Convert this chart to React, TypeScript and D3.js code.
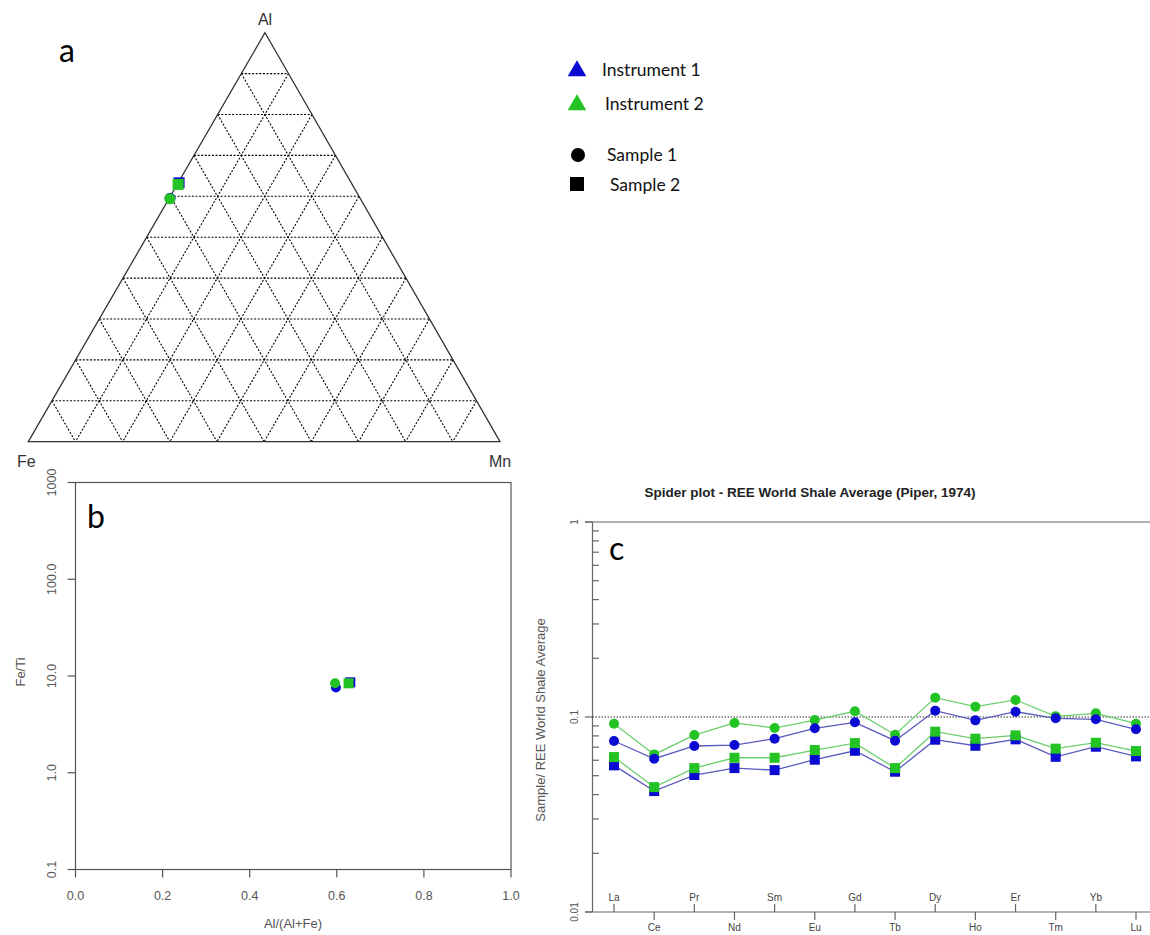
import React, { useEffect, useRef } from 'react';
import * as d3 from 'd3';

// Ternary (a): Al / Fe / Mn fractions, one entry per instrument+sample
const pointInstrument = ['Instrument 1', 'Instrument 2', 'Instrument 1', 'Instrument 2'];
const pointSample = ['Sample 1', 'Sample 1', 'Sample 2', 'Sample 2'];
const ternaryAl = [0.595, 0.594, 0.633, 0.629];
const ternaryFe = [0.403, 0.404, 0.365, 0.369];
const ternaryMn = [0.002, 0.002, 0.002, 0.002];

// Panel b
const alRatio = [0.598, 0.596, 0.631, 0.627];
const feTi = [7.6, 8.4, 8.6, 8.4];
const bYTicks = [0.1, 1, 10, 100, 1000];
const bYTickLabels = ['0.1', '1.0', '10.0', '100.0', '1000'];
const bXTicks = [0, 0.2, 0.4, 0.6, 0.8, 1.0];

// Panel c: REE normalised to World Shale Average
const elements = ['La', 'Ce', 'Pr', 'Nd', 'Sm', 'Eu', 'Gd', 'Tb', 'Dy', 'Ho', 'Er', 'Tm', 'Yb', 'Lu'];
const inst1Sample1 = [0.0753, 0.0611, 0.071, 0.0718, 0.0774, 0.0875, 0.0939, 0.0756, 0.1078, 0.0961, 0.1065, 0.0985, 0.0973, 0.0865];
const inst2Sample1 = [0.0924, 0.0643, 0.0808, 0.0932, 0.0878, 0.0965, 0.107, 0.0811, 0.1257, 0.113, 0.1223, 0.1008, 0.1044, 0.0924];
const inst1Sample2 = [0.0565, 0.0417, 0.0504, 0.0547, 0.0534, 0.0604, 0.0671, 0.0524, 0.0765, 0.0712, 0.0768, 0.0625, 0.0704, 0.0628];
const inst2Sample2 = [0.0623, 0.0437, 0.0547, 0.0618, 0.0618, 0.0677, 0.0735, 0.0547, 0.0841, 0.0774, 0.0805, 0.0688, 0.0738, 0.0669];
const cYTicks = [0.01, 0.1, 1];
const cYTickLabels = ['0.01', '0.1', '1'];

const instColor = { 'Instrument 1': '#0a0ad2', 'Instrument 2': '#22c322' };
const lineColor = { 'Instrument 1': '#5a5ac0', 'Instrument 2': '#6ccf6c' };

const App = () => {
  const svgRef = useRef(null);

  useEffect(() => {
    const svg = d3.select(svgRef.current);
    svg.selectAll('*').remove();
    const axisFont = 'Liberation Sans, Arial, sans-serif';
    const letterFont = 'Lato, Open Sans, sans-serif';

    const drawMarker = (g, sample, x, y, color, size) => {
      if (sample === 'Sample 1') {
        g.append('circle').attr('cx', x).attr('cy', y).attr('r', size / 2).attr('fill', color);
      } else {
        g.append('rect').attr('x', x - size / 2).attr('y', y - size / 2)
          .attr('width', size).attr('height', size).attr('fill', color);
      }
    };

    // ---------- a: ternary ----------
    const top = [265, 32.7];
    const left = [28.3, 441.7];
    const right = [500, 441.7];
    const tern = (al, fe, mn) => {
      const s = al + fe + mn;
      return [
        (al * top[0] + fe * left[0] + mn * right[0]) / s,
        (al * top[1] + fe * left[1] + mn * right[1]) / s,
      ];
    };
    const ga = svg.append('g');
    const gridSteps = d3.range(1, 10).map(i => i / 10);
    gridSteps.forEach(t => {
      // constant Al, constant Fe, constant Mn
      const lines = [
        [tern(t, 1 - t, 0), tern(t, 0, 1 - t)],
        [tern(1 - t, t, 0), tern(0, t, 1 - t)],
        [tern(1 - t, 0, t), tern(0, 1 - t, t)],
      ];
      lines.forEach(([p1, p2]) => {
        ga.append('line')
          .attr('x1', p1[0]).attr('y1', p1[1]).attr('x2', p2[0]).attr('y2', p2[1])
          .attr('stroke', '#000').attr('stroke-width', 1.1).attr('stroke-dasharray', '2,1.6');
      });
    });
    ga.append('path')
      .attr('d', d3.line()([top, left, right, top]) + 'Z')
      .attr('fill', 'none').attr('stroke', '#333').attr('stroke-width', 1.3);
    ga.append('text').attr('x', 265).attr('y', 25).attr('text-anchor', 'middle')
      .attr('font-family', axisFont).attr('font-size', 16).attr('fill', '#333').text('Al');
    ga.append('text').attr('x', 17).attr('y', 467)
      .attr('font-family', axisFont).attr('font-size', 16).attr('fill', '#333').text('Fe');
    ga.append('text').attr('x', 489).attr('y', 467)
      .attr('font-family', axisFont).attr('font-size', 16).attr('fill', '#333').text('Mn');
    ga.append('text').attr('x', 59).attr('y', 62)
      .attr('font-family', letterFont).attr('font-size', 32).attr('fill', '#000').text('a');
    const order = [0, 2, 1, 3];
    order.forEach(i => {
      const [x, y] = tern(ternaryAl[i], ternaryFe[i], ternaryMn[i]);
      drawMarker(ga, pointSample[i], x, y, instColor[pointInstrument[i]], 11);
    });

    // ---------- b: Al/(Al+Fe) vs Fe/Ti ----------
    const gb = svg.append('g');
    const xb = d3.scaleLinear().domain([0, 1]).range([75.5, 511]);
    const yb = d3.scaleLog().domain([0.1, 1000]).range([869.5, 482.5]);
    gb.append('rect').attr('x', xb(0)).attr('y', yb(1000))
      .attr('width', xb(1) - xb(0)).attr('height', yb(0.1) - yb(1000))
      .attr('fill', 'none').attr('stroke', '#555').attr('stroke-width', 1.2);
    bXTicks.forEach(t => {
      gb.append('line').attr('x1', xb(t)).attr('x2', xb(t)).attr('y1', yb(0.1)).attr('y2', yb(0.1) + 8)
        .attr('stroke', '#555').attr('stroke-width', 1.2);
      gb.append('text').attr('x', xb(t)).attr('y', 900).attr('text-anchor', 'middle')
        .attr('font-family', axisFont).attr('font-size', 12.5).attr('fill', '#555').text(d3.format('.1f')(t));
    });
    bYTicks.forEach((t, i) => {
      gb.append('line').attr('x1', xb(0) - 8).attr('x2', xb(0)).attr('y1', yb(t)).attr('y2', yb(t))
        .attr('stroke', '#555').attr('stroke-width', 1.2);
      gb.append('text').attr('transform', `translate(56,${yb(t)}) rotate(-90)`).attr('text-anchor', 'middle')
        .attr('font-family', axisFont).attr('font-size', 12.5).attr('fill', '#555').text(bYTickLabels[i]);
    });
    gb.append('text').attr('x', 293).attr('y', 928).attr('text-anchor', 'middle')
      .attr('font-family', axisFont).attr('font-size', 13).attr('fill', '#555').text('Al/(Al+Fe)');
    gb.append('text').attr('transform', 'translate(25,672) rotate(-90)').attr('text-anchor', 'middle')
      .attr('font-family', axisFont).attr('font-size', 13).attr('fill', '#555').text('Fe/Ti');
    gb.append('text').attr('x', 87).attr('y', 528)
      .attr('font-family', letterFont).attr('font-size', 32).attr('fill', '#000').text('b');
    order.forEach(i => {
      drawMarker(gb, pointSample[i], xb(alRatio[i]), yb(feTi[i]), instColor[pointInstrument[i]], 10);
    });

    // ---------- c: spider plot ----------
    const gc = svg.append('g');
    const xc = d3.scalePoint().domain(elements).range([614, 1136]);
    const yc = d3.scaleLog().domain([0.01, 1]).range([912, 522]);
    gc.append('text').attr('x', 810).attr('y', 497).attr('text-anchor', 'middle')
      .attr('font-family', axisFont).attr('font-size', 13.5).attr('font-weight', 'bold').attr('fill', '#222')
      .text('Spider plot - REE World Shale Average (Piper, 1974)');
    gc.append('line').attr('x1', 592.5).attr('x2', 592.5).attr('y1', yc(1)).attr('y2', yc(0.01))
      .attr('stroke', '#666').attr('stroke-width', 1.2);
    gc.append('line').attr('x1', 585).attr('x2', 1150).attr('y1', yc(1)).attr('y2', yc(1))
      .attr('stroke', '#666').attr('stroke-width', 1.2);
    gc.append('line').attr('x1', 585).attr('x2', 1150).attr('y1', yc(0.01)).attr('y2', yc(0.01))
      .attr('stroke', '#666').attr('stroke-width', 1.2);
    cYTicks.forEach((t, i) => {
      gc.append('line').attr('x1', 585).attr('x2', 592.5).attr('y1', yc(t)).attr('y2', yc(t))
        .attr('stroke', '#666').attr('stroke-width', 1.2);
      gc.append('text').attr('transform', `translate(578,${yc(t)}) rotate(-90)`).attr('text-anchor', 'middle')
        .attr('font-family', axisFont).attr('font-size', 10).attr('fill', '#555').text(cYTickLabels[i]);
    });
    // minor ticks, pointing inward
    yc.ticks().filter(t => !cYTicks.includes(t)).forEach(t => {
      gc.append('line').attr('x1', 592.5).attr('x2', 599).attr('y1', yc(t)).attr('y2', yc(t))
        .attr('stroke', '#666').attr('stroke-width', 1.2);
    });
    gc.append('line').attr('x1', 592.5).attr('x2', 1150).attr('y1', yc(0.1)).attr('y2', yc(0.1))
      .attr('stroke', '#333').attr('stroke-width', 1).attr('stroke-dasharray', '1.5,1.5');
    elements.forEach((el, i) => {
      const up = i % 2 === 0;
      gc.append('line').attr('x1', xc(el)).attr('x2', xc(el))
        .attr('y1', yc(0.01)).attr('y2', yc(0.01) + (up ? -8 : 8))
        .attr('stroke', '#666').attr('stroke-width', 1.2);
      gc.append('text').attr('x', xc(el)).attr('y', up ? 901 : 931).attr('text-anchor', 'middle')
        .attr('font-family', axisFont).attr('font-size', 10).attr('fill', '#444').text(el);
    });
    gc.append('text').attr('transform', 'translate(545,720) rotate(-90)').attr('text-anchor', 'middle')
      .attr('font-family', axisFont).attr('font-size', 13).attr('fill', '#555')
      .text('Sample/ REE World Shale Average');
    gc.append('text').attr('x', 609).attr('y', 560)
      .attr('font-family', letterFont).attr('font-size', 32).attr('fill', '#000').text('c');

    const series = [
      { inst: 'Instrument 2', sample: 'Sample 1', values: inst2Sample1 },
      { inst: 'Instrument 1', sample: 'Sample 1', values: inst1Sample1 },
      { inst: 'Instrument 1', sample: 'Sample 2', values: inst1Sample2 },
      { inst: 'Instrument 2', sample: 'Sample 2', values: inst2Sample2 },
    ];
    const line = d3.line().x((d, i) => xc(elements[i])).y(d => yc(d));
    series.forEach(s => {
      gc.append('path').attr('d', line(s.values)).attr('fill', 'none')
        .attr('stroke', lineColor[s.inst]).attr('stroke-width', 1.3);
    });
    series.forEach(s => {
      s.values.forEach((v, i) => {
        drawMarker(gc, s.sample, xc(elements[i]), yc(v), instColor[s.inst], 10);
      });
    });

    // ---------- legend ----------
    const gl = svg.append('g');
    const tri = d3.symbol().type(d3.symbolTriangle).size(150);
    [['Instrument 1', 70], ['Instrument 2', 104]].forEach(([name, y]) => {
      gl.append('path').attr('d', tri()).attr('transform', `translate(577,${y + 1})`)
        .attr('fill', instColor[name]);
      gl.append('text').attr('x', name === 'Instrument 1' ? 602 : 605).attr('y', y + 6)
        .attr('font-family', letterFont).attr('font-size', 17.5).attr('fill', '#111').text(name);
    });
    gl.append('circle').attr('cx', 578).attr('cy', 155).attr('r', 7).attr('fill', '#000');
    gl.append('text').attr('x', 607).attr('y', 161)
      .attr('font-family', letterFont).attr('font-size', 17.5).attr('fill', '#111').text('Sample 1');
    gl.append('rect').attr('x', 570).attr('y', 177).attr('width', 14).attr('height', 14).attr('fill', '#000');
    gl.append('text').attr('x', 610).attr('y', 191)
      .attr('font-family', letterFont).attr('font-size', 17.5).attr('fill', '#111').text('Sample 2');
  }, []);

  return (
    <svg
      ref={svgRef}
      width={1150}
      height={935}
      style={{ position: 'absolute', left: 0, top: 0, background: '#fff' }}
    />
  );
};

export default App;
